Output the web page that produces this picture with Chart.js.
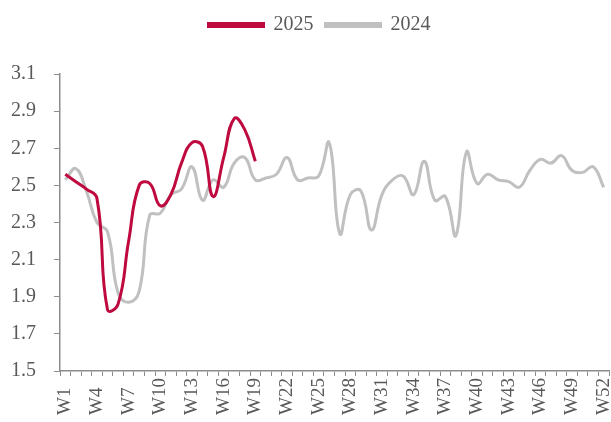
<!DOCTYPE html>
<html>
<head>
<meta charset="utf-8">
<script src="https://cdn.jsdelivr.net/npm/chart.js@4"></script>
<style>
    body { margin: 0; background: #fff; }
    #wrap { width: 611px; height: 422px; }
</style>
</head>
<body>
<div id="wrap"><canvas id="myChart"></canvas></div>
<script>
// week labels W1..W52
let weeks = [];
for (let i = 1; i <= 52; i++) weeks.push('W' + i);

let values2025 = [2.56, 2.52, 2.48, 2.43, 1.83, 1.86, 2.20, 2.50, 2.51, 2.39,
    2.45, 2.62, 2.73, 2.71, 2.44, 2.65, 2.86, 2.80, 2.63];

let values2024 = [2.53, 2.59, 2.47, 2.30, 2.25, 1.92, 1.87, 1.93, 2.34, 2.35,
    2.45, 2.48, 2.60, 2.42, 2.53, 2.49, 2.62, 2.65, 2.53, 2.54,
    2.56, 2.65, 2.53, 2.54, 2.55, 2.73, 2.24, 2.45, 2.47, 2.26,
    2.45, 2.53, 2.55, 2.45, 2.63, 2.42, 2.44, 2.23, 2.68, 2.51,
    2.56, 2.53, 2.52, 2.49, 2.58, 2.64, 2.62, 2.66, 2.58, 2.57,
    2.60, 2.49];

let yTicks = [1.5, 1.7, 1.9, 2.1, 2.3, 2.5, 2.7, 2.9, 3.1];

const red = '#BE0A3E';
const grey = '#C0C0C0';
const axisColor = '#8C8C8C';
const textColor = '#595959';

// extra room under the legend, and nudge the legend a bit right like the original
const legendTweak = {
    id: 'legendTweak',
    beforeInit(chart) {
        const fit = chart.legend.fit;
        chart.legend.fit = function () {
            fit.call(this);
            this.height += 29;
        };
    },
    afterLayout(chart) {
        chart.legend.left += 30;
    }
};

const ctx = document.getElementById('myChart');

new Chart(ctx, {
    type: 'line',
    data: {
        labels: weeks,
        datasets: [{
            label: '2025',
            data: values2025,
            borderColor: red,
            backgroundColor: red,
            borderWidth: 3,
            pointRadius: 0,
            tension: 0.45
        }, {
            label: '2024',
            data: values2024,
            borderColor: grey,
            backgroundColor: grey,
            borderWidth: 3,
            pointRadius: 0,
            tension: 0.45
        }]
    },
    plugins: [legendTweak],
    options: {
        responsive: true,
        maintainAspectRatio: false,
        animation: false,
        layout: {
            padding: { left: 0, right: 2, top: 3, bottom: 0 }
        },
        plugins: {
            legend: {
                position: 'top',
                labels: {
                    boxWidth: 55,
                    boxHeight: 3,
                    padding: 12,
                    color: textColor,
                    font: { family: 'Liberation Serif', size: 20 }
                }
            },
            tooltip: { enabled: false }
        },
        scales: {
            x: {
                offset: true,
                afterFit: function (axis) {
                    axis.height = 51;
                    axis.paddingLeft = 0;
                    axis.paddingRight = 0;
                },
                grid: {
                    drawOnChartArea: false,
                    drawTicks: true,
                    tickLength: 5,
                    color: axisColor,
                    offset: true
                },
                border: { color: axisColor, width: 1.5 },
                ticks: {
                    autoSkip: false,
                    minRotation: 90,
                    maxRotation: 90,
                    color: textColor,
                    padding: 2,
                    font: { family: 'Liberation Serif', size: 19 },
                    callback: function (value, index) {
                        if (index % 3 !== 0) return '';
                        // pad short labels so they line up at the bottom like the original
                        return weeks[index].length < 3 ? weeks[index] + '  ' : weeks[index];
                    }
                }
            },
            y: {
                min: 1.5,
                max: 3.1,
                afterBuildTicks: function (axis) {
                    axis.ticks = yTicks.map(v => ({ value: v }));
                },
                afterFit: function (axis) {
                    axis.width = 60;
                },
                grid: {
                    drawOnChartArea: false,
                    drawTicks: true,
                    tickLength: 6,
                    color: axisColor
                },
                border: { color: axisColor, width: 1.5 },
                ticks: {
                    color: textColor,
                    padding: 18,
                    font: { family: 'Liberation Serif', size: 20 },
                    callback: function (value) {
                        return value.toFixed(1);
                    }
                }
            }
        }
    }
});
</script>
</body>
</html>
